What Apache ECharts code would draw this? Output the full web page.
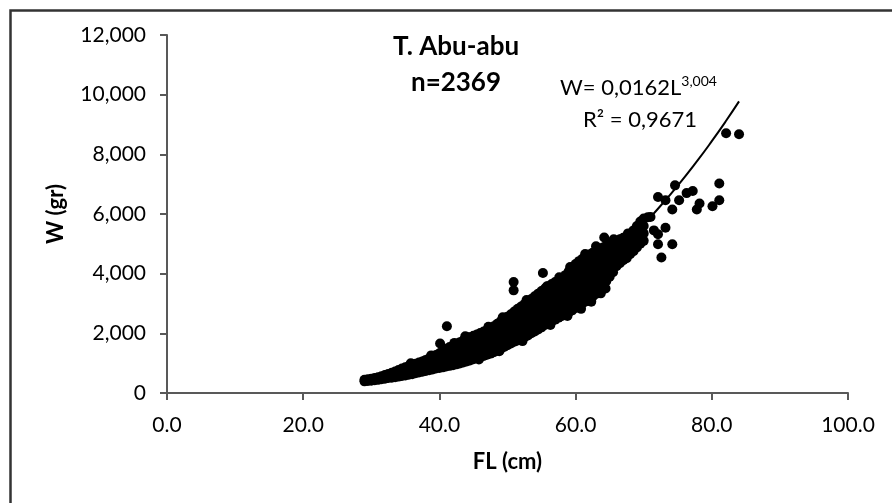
<!DOCTYPE html>
<html>
<head>
<meta charset="utf-8">
<script src="https://cdn.jsdelivr.net/npm/echarts@6/dist/echarts.min.js"></script>
<style>
  html, body { margin: 0; padding: 0; background: #fff; }
  #main { width: 892px; height: 503px; }
</style>
</head>
<body>
<div id="main"></div>
<script>
// FL (cm) columns and the W (gr) values read at each, off the picture
var smallFL = [29.0,29.5,30.0,30.5,31.0,31.5,32.0,32.5,33.0,33.5,34.0,34.5,35.0,35.5,36.0,36.5,37.0,37.5,38.0,38.5,39.0,39.5,40.0];
var smallW = [
  [390,440],[400,460],[410,480],[430,500],[440,530],[460,560],[480,600],[500,640],
  [510,600,680],[530,630,720],[550,660,770],[570,700,820],[590,730,860],[610,760,900],
  [630,790,940],[660,820,980],[690,860,1020],[710,880,1060],[740,930,1110],[760,960,1160],
  [790,1000,1210],[820,1040,1270],[840,1080,1330]
];
var midFL = [40.5,41.0,41.5,42.0,42.5,43.0,43.5,44.0,44.5,45.0,45.5,46.0,46.5,47.0,47.5,48.0,48.5,49.0,49.5,50.0,50.5,51.0,51.5,52.0,52.5,53.0];
var midW = [
  [860,1050,1240,1420],[890,1090,1290,1480],[910,1120,1330,1540],[930,1150,1370,1590],
  [960,1190,1410,1640],[990,1230,1460,1700],[1020,1270,1510,1760],
  [1060,1250,1440,1630,1820],[1090,1290,1480,1680,1870],[1130,1330,1530,1720,1920],
  [1170,1370,1570,1760,1960],[1200,1400,1610,1810,2010],[1240,1450,1650,1860,2060],
  [1280,1490,1700,1900,2110],[1320,1530,1750,1960,2170],[1370,1590,1800,2020,2240],
  [1420,1640,1870,2090,2320],[1480,1710,1940,2170,2400],[1540,1770,2010,2240,2480],
  [1600,1840,2080,2320,2560],[1660,1900,2150,2390,2640],[1720,1970,2220,2480,2730],
  [1760,2030,2290,2560,2820],[1810,2080,2360,2630,2900],[1870,2150,2420,2700,2980],
  [1930,2210,2500,2780,3060]
];
var largeFL = [53.5,54.0,54.5,55.0,55.5,56.0,56.5,57.0,57.5,58.0,58.5,59.0,59.5,60.0,60.5,61.0,61.5,62.0,62.5,63.0,63.5,64.0];
var largeW = [
  [2000,2230,2460,2690,2920,3150],[2060,2300,2530,2770,3000,3240],[2130,2370,2610,2850,3090,3330],
  [2200,2440,2690,2930,3180,3420],[2280,2520,2770,3010,3260,3500],[2350,2600,2840,3090,3330,3580],
  [2400,2650,2900,3150,3400,3650],[2460,2710,2960,3220,3470,3720],[2520,2770,3020,3280,3530,3780],
  [2580,2830,3090,3340,3600,3850],[2640,2900,3160,3430,3690,3950],[2700,2980,3250,3530,3800,4080],
  [2770,3060,3340,3630,3910,4200],[2850,3140,3440,3730,4030,4320],[2920,3220,3520,3820,4120,4420],
  [3000,3300,3600,3900,4200,4500],[3070,3370,3680,3980,4280,4580],[3150,3450,3750,4040,4340,4640],
  [3230,3520,3820,4110,4410,4700],[3320,3610,3900,4180,4470,4760],[3420,3700,3980,4260,4540,4820],
  [3550,3820,4080,4350,4610,4880]
];
var bigFL = [64.5,65.0,65.5,66.0,66.5,67.0,67.5,68.0,68.5,69.0,69.5,70.0];
var bigW = [
  [3750,4050,4340,4640,4940],[3900,4180,4450,4730,5000],[4050,4300,4550,4800,5050],
  [4250,4460,4680,4890,5100],[4350,4550,4750,4950,5150],[4450,4640,4830,5010,5200],
  [4520,4770,5010,5260],[4650,4880,5110,5340],[4750,4980,5220,5450],
  [4880,5120,5360,5600],[5000,5250,5500,5750],[5100,5350,5600,5850]
];
// single dots sticking out of the band edges
var edgeFish = [
  [35.8,1000],[38.8,1260],[42.2,1680],[43.8,1900],[47.2,2220],[49.3,2540],[52.8,3120],[55.8,3580],
  [57.6,3880],[59.2,4220],[61.4,4660],[63.0,4920],[65.6,5150],[67.7,5350],
  [45.8,1120],[48.8,1400],[52.2,1740],[56.3,2280],[58.8,2580],[60.8,2820],[62.3,3060],[64.4,3500]
];
// loose points in the upper tail and away from the band
var tailFish = [
  [70.6,5890],[71.0,5900],[71.5,5450],[72.1,6570],[72.1,5320],[72.1,4985],[72.6,4540],[73.2,6460],[73.2,5540],
  [74.2,6150],[74.2,4985],[74.6,6960],[75.2,6460],[76.3,6700],[77.2,6770],[77.8,6150],[78.2,6350],
  [80.1,6260],[81.1,6460],[81.1,7020],[82.1,8705],[84.0,8672]
];
var outliers = [
  [40.1,1660],[41.1,2236],[44.1,1870],[50.9,3440],[50.9,3720],[55.2,4023],[62.7,3340],[63.7,3340],[64.2,5210]
];

// trendline
var fitFL = [29,30,32,35,38,40,42,45,48,50,52,55,58,60,62,65,68,70,72,75,78,80,82,84];
var fitW  = [400,443,538,704,902,1052,1218,1499,1819,2057,2314,2739,3213,3557,3925,4524,5180,5651,6151,6953,7823,8441,9091,9774];

var xTicks = [0, 20, 40, 60, 80, 100];
var yTicks = [0, 2000, 4000, 6000, 8000, 10000, 12000];

function columns(fl, w) {
  var out = [];
  fl.forEach(function (x, i) {
    w[i].forEach(function (y) { out.push([x, y]); });
  });
  return out;
}
var allFish = columns(smallFL, smallW).concat(
  columns(midFL, midW), columns(largeFL, largeW), columns(bigFL, bigW), edgeFish, tailFish, outliers);
var fitData = fitFL.map(function (v, i) { return [v, fitW[i]]; });

var chart = echarts.init(document.getElementById('main'));
var font = 'Lato, "Open Sans", sans-serif';
var axisCol = '#595959';

var option = {
  backgroundColor: '#fff',
  animation: false,
  textStyle: { fontFamily: font },
  grid: { left: 167, right: 44, top: 35, bottom: 110 },
  xAxis: {
    type: 'value',
    min: xTicks[0], max: xTicks[xTicks.length - 1], interval: 20,
    name: 'FL (cm)',
    nameLocation: 'middle',
    nameGap: 58,
    nameTextStyle: { color: '#000', fontSize: 22, fontWeight: 'bold', fontFamily: font },
    axisLine: { show: true, lineStyle: { color: axisCol, width: 2 } },
    axisTick: { show: true, length: 7, lineStyle: { color: axisCol, width: 2 } },
    axisLabel: { color: '#000', fontSize: 21, margin: 22, fontFamily: font,
      formatter: function (v) { return v.toFixed(1); } },
    splitLine: { show: false }
  },
  yAxis: {
    type: 'value',
    min: yTicks[0], max: yTicks[yTicks.length - 1], interval: 2000,
    name: 'W (gr)',
    nameLocation: 'middle',
    nameGap: 100,
    nameTextStyle: { color: '#000', fontSize: 22, fontWeight: 'bold', fontFamily: font },
    axisLine: { show: true, lineStyle: { color: axisCol, width: 2 } },
    axisTick: { show: true, length: 7, lineStyle: { color: axisCol, width: 2 } },
    axisLabel: { color: '#000', fontSize: 21, margin: 21, fontFamily: font,
      formatter: function (v) { return v === 0 ? '0' : v.toLocaleString('en-US'); } },
    splitLine: { show: false }
  },
  graphic: [
    { type: 'rect', left: 8, top: 8, silent: true, z: -1,
      shape: { width: 900, height: 510 },
      style: { fill: null, stroke: '#333', lineWidth: 2.5 } },
    { type: 'text', x: 456, y: 47, style: { text: 'T. Abu-abu', font: 'bold 26px ' + font, fill: '#000', align: 'center', verticalAlign: 'middle' } },
    { type: 'text', x: 456, y: 83, style: { text: 'n=2369', font: 'bold 26px ' + font, fill: '#000', align: 'center', verticalAlign: 'middle' } },
    { type: 'text', x: 560, y: 88, style: {
        text: '{m|W= 0,0162L}{s|3,004}', fill: '#000', align: 'left', verticalAlign: 'middle',
        rich: {
          m: { fontSize: 22, lineHeight: 28, fontFamily: font, color: '#000' },
          s: { fontSize: 14, lineHeight: 16, verticalAlign: 'top', fontFamily: font, color: '#000' }
        } } },
    { type: 'text', x: 583, y: 120, style: { text: 'R\u00b2 = 0,9671', font: '22px ' + font, fill: '#000', align: 'left', verticalAlign: 'middle' } }
  ],
  series: [
    {
      type: 'scatter',
      data: allFish,
      symbol: 'circle',
      symbolSize: 10,
      itemStyle: { color: '#000', opacity: 1 },
      z: 2
    },
    {
      type: 'line',
      data: fitData,
      smooth: true,
      showSymbol: false,
      lineStyle: { color: '#000', width: 2 },
      z: 3
    }
  ]
};

chart.setOption(option);
</script>
</body>
</html>
